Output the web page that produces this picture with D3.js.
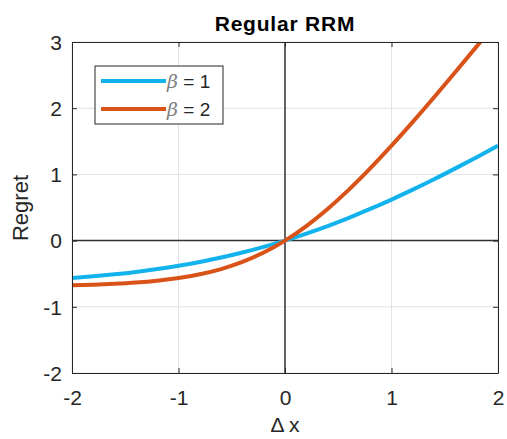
<!DOCTYPE html>
<html>
<head>
  <meta charset="UTF-8">
  <title>Regular RRM</title>
  <script src="https://d3js.org/d3.v7.min.js"></script>
  <style>
    body { margin: 0; background: #fff; }
    text { font-family: "Liberation Sans", Arial, sans-serif; }
  </style>
</head>
<body>
  <div id="chart"></div>
  <script>
    // values
    const dx = [-2, -1.8, -1.6, -1.4, -1.2, -1, -0.8, -0.6, -0.4, -0.2, 0,
                0.2, 0.4, 0.6, 0.8, 1, 1.2, 1.4, 1.6, 1.8, 2];
    const beta1 = [-0.566, -0.540, -0.509, -0.473, -0.430, -0.380, -0.322, -0.256, -0.180, -0.095, 0,
                   0.105, 0.220, 0.344, 0.478, 0.620, 0.770, 0.927, 1.091, 1.260, 1.434];
    const beta2 = [-0.675, -0.666, -0.653, -0.634, -0.606, -0.566, -0.509, -0.430, -0.322, -0.180, 0,
                   0.220, 0.478, 0.770, 1.091, 1.434, 1.794, 2.166, 2.547, 2.934, 3.325];
    const seriesNames = ["1", "2"];
    const xTicks = [-2, -1, 0, 1, 2];
    const yTicks = [-2, -1, 0, 1, 2, 3];

    const W = 507, H = 439;
    const margin = { top: 42, right: 9, bottom: 66, left: 72 };
    const width = W - margin.left - margin.right;
    const height = H - margin.top - margin.bottom;

    const svg = d3.select("#chart").append("svg")
      .attr("width", W)
      .attr("height", H);

    const g = svg.append("g")
      .attr("transform", "translate(" + margin.left + "," + margin.top + ")");

    const x = d3.scaleLinear().domain([-2, 2]).range([0, width]);
    const y = d3.scaleLinear().domain([-2, 3]).range([height, 0]);

    // grid
    g.append("g").selectAll("line").data(xTicks).enter().append("line")
      .attr("x1", d => x(d)).attr("x2", d => x(d))
      .attr("y1", 0).attr("y2", height)
      .attr("stroke", "#e3e3e3").attr("stroke-width", 1);
    g.append("g").selectAll("line").data(yTicks).enter().append("line")
      .attr("y1", d => y(d)).attr("y2", d => y(d))
      .attr("x1", 0).attr("x2", width)
      .attr("stroke", "#e3e3e3").attr("stroke-width", 1);

    // zero lines
    g.append("line")
      .attr("x1", x(0)).attr("x2", x(0)).attr("y1", 0).attr("y2", height)
      .attr("stroke", "#333").attr("stroke-width", 1.5);
    g.append("line")
      .attr("x1", 0).attr("x2", width).attr("y1", y(0)).attr("y2", y(0))
      .attr("stroke", "#333").attr("stroke-width", 1.5);

    // curves
    svg.append("defs").append("clipPath").attr("id", "clip")
      .append("rect").attr("width", width).attr("height", height);

    const line = d3.line()
      .x((d, i) => x(dx[i]))
      .y(d => y(d))
      .curve(d3.curveMonotoneX);

    const colors = ["#12b3ec", "#d95319"];
    const series = [beta1, beta2];

    g.append("g").attr("clip-path", "url(#clip)")
      .selectAll("path").data(series).enter().append("path")
      .attr("d", line)
      .attr("fill", "none")
      .attr("stroke", (d, i) => colors[i])
      .attr("stroke-width", 4);

    // axes with inward ticks on all four sides
    const tickLen = 5;
    const axisColor = "#262626";
    const fmt = d => (d < 0 ? "-" + Math.abs(d) : String(d));
    const axB = g.append("g").attr("transform", "translate(0," + height + ")")
      .call(d3.axisBottom(x).tickValues(xTicks).tickSizeInner(-tickLen).tickSizeOuter(0)
        .tickPadding(17).tickFormat(fmt));
    const axT = g.append("g")
      .call(d3.axisTop(x).tickValues(xTicks).tickSizeInner(-tickLen).tickSizeOuter(0).tickFormat(""));
    const axL = g.append("g")
      .call(d3.axisLeft(y).tickValues(yTicks).tickSizeInner(-tickLen).tickSizeOuter(0)
        .tickPadding(10).tickFormat(fmt));
    const axR = g.append("g").attr("transform", "translate(" + width + ",0)")
      .call(d3.axisRight(y).tickValues(yTicks).tickSizeInner(-tickLen).tickSizeOuter(0).tickFormat(""));

    [axB, axT, axL, axR].forEach(a => {
      a.select(".domain").attr("stroke", axisColor);
      a.selectAll(".tick line").attr("stroke", axisColor);
      a.selectAll("text")
        .attr("fill", axisColor)
        .style("font-size", "21px")
        .style("font-family", "'Liberation Sans', Arial, sans-serif");
    });
    axB.selectAll("text").attr("dy", "0.71em");
    axL.selectAll("text").attr("dy", "0.35em");

    // title and labels
    svg.append("text")
      .attr("x", margin.left + width / 2)
      .attr("y", 31)
      .attr("text-anchor", "middle")
      .style("font-size", "21px")
      .style("font-weight", "bold")
      .style("letter-spacing", "0.8px")
      .attr("fill", "#000")
      .text("Regular RRM");

    svg.append("text")
      .attr("transform", "translate(28," + 208 + ") rotate(-90)")
      .attr("text-anchor", "middle")
      .style("font-size", "22px")
      .attr("fill", axisColor)
      .text("Regret");

    svg.append("text")
      .attr("x", margin.left + width / 2)
      .attr("y", 432)
      .attr("text-anchor", "middle")
      .style("font-size", "21px")
      .attr("fill", axisColor)
      .text("\u0394 x");

    // legend
    const leg = svg.append("g").attr("transform", "translate(95,66)");
    leg.append("rect")
      .attr("width", 128).attr("height", 58)
      .attr("fill", "#fff").attr("stroke", axisColor).attr("stroke-width", 1);
    seriesNames.forEach((s, i) => {
      const yy = 15 + i * 28;
      leg.append("line")
        .attr("x1", 6).attr("x2", 71).attr("y1", yy).attr("y2", yy)
        .attr("stroke", colors[i]).attr("stroke-width", 4);
      const t = leg.append("text")
        .attr("x", 72).attr("y", yy + 7)
        .style("font-size", "19px")
        .attr("fill", axisColor);
      t.append("tspan")
        .style("font-family", "'DejaVu Serif', 'Liberation Serif', serif")
        .style("font-style", "italic")
        .attr("fill", "#808080")
        .text("\u03b2");
      t.append("tspan").text(" = " + s);
    });
  </script>
</body>
</html>
